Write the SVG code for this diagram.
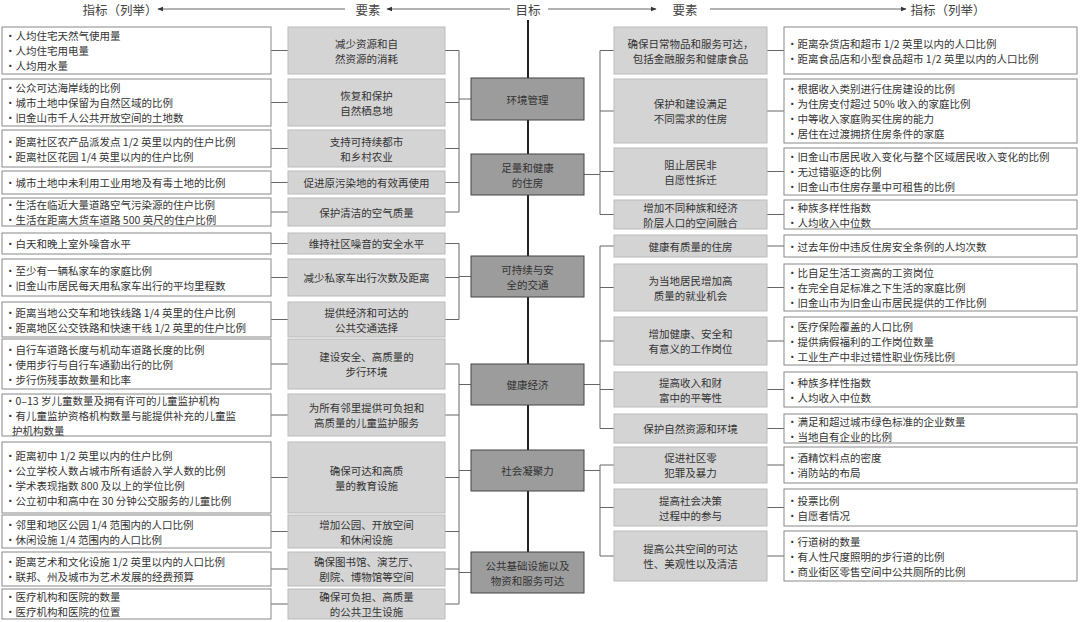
<svg xmlns="http://www.w3.org/2000/svg" width="1080" height="622" viewBox="0 0 1080 622">
<defs>
<style>
text{font-family:"Noto Sans CJK SC","Liberation Sans",sans-serif;font-size:10.5px;fill:#333;dominant-baseline:central}
.c{text-anchor:middle}
.h{font-size:12.5px;fill:#444}
.ind{fill:#fff;stroke:#888;stroke-width:1}
.el{fill:#d4d4d4;stroke:#bbb;stroke-width:1}
.go{fill:#9c9c9c;stroke:#444;stroke-width:1}
.ln{stroke:#666;stroke-width:1;fill:none}
.sp{stroke:#222;stroke-width:2;fill:none}
</style>
<marker id="a" viewBox="0 0 10 10" refX="9" refY="5" markerWidth="6" markerHeight="6" orient="auto-start-reverse"><path d="M0,1 L10,5 L0,9 z" fill="#333"/></marker>
</defs>
<rect width="1080" height="622" fill="#fff"/>
<g id="header">
<text class="h c" x="120" y="9">指标（列举）</text>
<text class="h c" x="368" y="9">要素</text>
<text class="h c" x="528" y="9">目标</text>
<text class="h c" x="685" y="9">要素</text>
<text class="h c" x="948" y="9">指标（列举）</text>
</g>
<g id="connectors">
<line class="ln" x1="345" y1="9" x2="158" y2="9" marker-end="url(#a)"/>
<line class="ln" x1="510" y1="9" x2="387" y2="9" marker-end="url(#a)"/>
<line class="ln" x1="548" y1="9" x2="656" y2="9" marker-end="url(#a)"/>
<line class="ln" x1="710" y1="9" x2="906" y2="9" marker-end="url(#a)"/>
<line class="sp" x1="528" y1="20" x2="528" y2="552"/>
<path class="ln" d="M271,50.5H288 M271,102.5H288 M271,148.5H288 M271,182.5H288 M271,212H288 M271,243.5H288 M271,277.5H288 M271,319.5H288 M271,364H288 M271,415H288 M271,477.5H288 M271,531.5H288 M271,569H288 M271,604H288"/>
<path class="ln" d="M445,50.5H459 M445,102.5H459 M445,148.5H459 M445,182.5H459 M445,212H459 M459,50.5V212 M459,99H471"/>
<path class="ln" d="M445,243.5H459 M445,277.5H459 M445,319.5H459 M459,243.5V319.5 M459,276.5H471"/>
<path class="ln" d="M445,364H459 M445,415H459 M445,477.5H459 M445,531.5H459 M445,569H459 M445,604H459 M459,364V604 M459,384.5H471 M459,470.5H471 M459,572.5H471"/>
<path class="ln" d="M767,50.5H784 M767,111H784 M767,171.5H784 M767,214.5H784 M767,246H784 M767,287.5H784 M767,341H784 M767,389.5H784 M767,428.5H784 M767,465H784 M767,507.5H784 M767,556H784"/>
<path class="ln" d="M614,50.5H600 M614,111H600 M614,171.5H600 M614,214.5H600 M600,50.5V214.5 M584,174.5H600"/>
<path class="ln" d="M614,246H600 M614,287.5H600 M614,341H600 M614,389.5H600 M614,428.5H600 M600,246V428.5 M584,384.5H600"/>
<path class="ln" d="M614,465H600 M614,507.5H600 M614,556H600 M600,465V556 M584,470.5H600"/>
</g>
<g id="goals">
<g id="g1"><rect class="go" x="471" y="78" width="113" height="42"/><text class="c" x="527.5" y="99">环境管理</text></g>
<g id="g2"><rect class="go" x="471" y="154" width="113" height="41"/><text class="c" x="527.5" y="167">足量和健康</text><text class="c" x="527.5" y="182">的住房</text></g>
<g id="g3"><rect class="go" x="471" y="256" width="113" height="41"/><text class="c" x="527.5" y="269">可持续与安</text><text class="c" x="527.5" y="284">全的交通</text></g>
<g id="g4"><rect class="go" x="471" y="364" width="113" height="41"/><text class="c" x="527.5" y="384.5">健康经济</text></g>
<g id="g5"><rect class="go" x="471" y="450" width="113" height="41"/><text class="c" x="527.5" y="470.5">社会凝聚力</text></g>
<g id="g6"><rect class="go" x="471" y="552" width="113" height="41"/><text class="c" x="527.5" y="565">公共基础设施以及</text><text class="c" x="527.5" y="580">物资和服务可达</text></g>
</g>
<g id="left-elements">
<g id="le1"><rect class="el" x="288" y="27" width="157" height="47"/><text class="c" x="366.5" y="43">减少资源和自</text><text class="c" x="366.5" y="58">然资源的消耗</text></g>
<g id="le2"><rect class="el" x="288" y="79" width="157" height="47"/><text class="c" x="366.5" y="95">恢复和保护</text><text class="c" x="366.5" y="110">自然栖息地</text></g>
<g id="le3"><rect class="el" x="288" y="130" width="157" height="37"/><text class="c" x="366.5" y="141">支持可持续都市</text><text class="c" x="366.5" y="156">和乡村农业</text></g>
<g id="le4"><rect class="el" x="288" y="171" width="157" height="23"/><text class="c" x="366.5" y="182.5">促进原污染地的有效再使用</text></g>
<g id="le5"><rect class="el" x="288" y="198" width="157" height="28"/><text class="c" x="366.5" y="212">保护清洁的空气质量</text></g>
<g id="le6"><rect class="el" x="288" y="233" width="157" height="21"/><text class="c" x="366.5" y="243.5">维持社区噪音的安全水平</text></g>
<g id="le7"><rect class="el" x="288" y="259" width="157" height="37"/><text class="c" x="366.5" y="277.5">减少私家车出行次数及距离</text></g>
<g id="le8"><rect class="el" x="288" y="302" width="157" height="35"/><text class="c" x="366.5" y="312">提供经济和可达的</text><text class="c" x="366.5" y="327">公共交通选择</text></g>
<g id="le9"><rect class="el" x="288" y="339" width="157" height="50"/><text class="c" x="366.5" y="356.5">建设安全、高质量的</text><text class="c" x="366.5" y="371.5">步行环境</text></g>
<g id="le10"><rect class="el" x="288" y="394" width="157" height="42"/><text class="c" x="366.5" y="407.5">为所有邻里提供可负担和</text><text class="c" x="366.5" y="422.5">高质量的儿童监护服务</text></g>
<g id="le11"><rect class="el" x="288" y="442" width="157" height="71"/><text class="c" x="366.5" y="470">确保可达和高质</text><text class="c" x="366.5" y="485">量的教育设施</text></g>
<g id="le12"><rect class="el" x="288" y="515" width="157" height="33"/><text class="c" x="366.5" y="524">增加公园、开放空间</text><text class="c" x="366.5" y="539">和休闲设施</text></g>
<g id="le13"><rect class="el" x="288" y="552" width="157" height="34"/><text class="c" x="366.5" y="561.5">确保图书馆、演艺厅、</text><text class="c" x="366.5" y="576.5">剧院、博物馆等空间</text></g>
<g id="le14"><rect class="el" x="288" y="589" width="157" height="30"/><text class="c" x="366.5" y="596.5">确保可负担、高质量</text><text class="c" x="366.5" y="611.5">的公共卫生设施</text></g>
</g>
<g id="left-indicators">
<g id="li1"><rect class="ind" x="2" y="27" width="269" height="47"/><text x="5" y="35.5">•人均住宅天然气使用量</text><text x="5" y="50.5">•人均住宅用电量</text><text x="5" y="65.5">•人均用水量</text></g>
<g id="li2"><rect class="ind" x="2" y="79" width="269" height="47"/><text x="5" y="87.5">•公众可达海岸线的比例</text><text x="5" y="102.5">•城市土地中保留为自然区域的比例</text><text x="5" y="117.5">•旧金山市千人公共开放空间的土地数</text></g>
<g id="li3"><rect class="ind" x="2" y="130" width="269" height="37"/><text x="5" y="141">•距离社区农产品派发点 1/2 英里以内的住户比例</text><text x="5" y="156">•距离社区花园 1/4 英里以内的住户比例</text></g>
<g id="li4"><rect class="ind" x="2" y="171" width="269" height="23"/><text x="5" y="182.5">•城市土地中未利用工业用地及有毒土地的比例</text></g>
<g id="li5"><rect class="ind" x="2" y="198" width="269" height="28"/><text x="5" y="204.5">•生活在临近大量道路空气污染源的住户比例</text><text x="5" y="219.5">•生活在距离大货车道路 500 英尺的住户比例</text></g>
<g id="li6"><rect class="ind" x="2" y="233" width="269" height="21"/><text x="5" y="243.5">•白天和晚上室外噪音水平</text></g>
<g id="li7"><rect class="ind" x="2" y="259" width="269" height="37"/><text x="5" y="270">•至少有一辆私家车的家庭比例</text><text x="5" y="285">•旧金山市居民每天用私家车出行的平均里程数</text></g>
<g id="li8"><rect class="ind" x="2" y="302" width="269" height="35"/><text x="5" y="312">•距离当地公交车和地铁线路 1/4 英里的住户比例</text><text x="5" y="327">•距离地区公交铁路和快速干线 1/2 英里的住户比例</text></g>
<g id="li9"><rect class="ind" x="2" y="339" width="269" height="50"/><text x="5" y="349">•自行车道路长度与机动车道路长度的比例</text><text x="5" y="364">•使用步行与自行车通勤出行的比例</text><text x="5" y="379">•步行伤残事故数量和比率</text></g>
<g id="li10"><rect class="ind" x="2" y="394" width="269" height="42"/><text x="5" y="400">•0–13 岁儿童数量及拥有许可的儿童监护机构</text><text x="5" y="415">•有儿童监护资格机构数量与能提供补充的儿童监</text><text x="12" y="430">护机构数量</text></g>
<g id="li11"><rect class="ind" x="2" y="442" width="269" height="71"/><text x="5" y="455">•距离初中 1/2 英里以内的住户比例</text><text x="5" y="470">•公立学校人数占城市所有适龄入学人数的比例</text><text x="5" y="485">•学术表现指数 800 及以上的学位比例</text><text x="5" y="500">•公立初中和高中在 30 分钟公交服务的儿童比例</text></g>
<g id="li12"><rect class="ind" x="2" y="515" width="269" height="33"/><text x="5" y="524">•邻里和地区公园 1/4 范围内的人口比例</text><text x="5" y="539">•休闲设施 1/4 范围内的人口比例</text></g>
<g id="li13"><rect class="ind" x="2" y="552" width="269" height="34"/><text x="5" y="561.5">•距离艺术和文化设施 1/2 英里以内的人口比例</text><text x="5" y="576.5">•联邦、州及城市为艺术发展的经费预算</text></g>
<g id="li14"><rect class="ind" x="2" y="589" width="269" height="30"/><text x="5" y="596.5">•医疗机构和医院的数量</text><text x="5" y="611.5">•医疗机构和医院的位置</text></g>
</g>
<g id="right-elements">
<g id="re1"><rect class="el" x="614" y="27" width="153" height="47"/><text class="c" x="690.5" y="43">确保日常物品和服务可达，</text><text class="c" x="690.5" y="58">包括金融服务和健康食品</text></g>
<g id="re2"><rect class="el" x="614" y="79" width="153" height="64"/><text class="c" x="690.5" y="103.5">保护和建设满足</text><text class="c" x="690.5" y="118.5">不同需求的住房</text></g>
<g id="re3"><rect class="el" x="614" y="148" width="153" height="47"/><text class="c" x="690.5" y="164">阻止居民非</text><text class="c" x="690.5" y="179">自愿性拆迁</text></g>
<g id="re4"><rect class="el" x="614" y="200" width="153" height="29"/><text class="c" x="690.5" y="207">增加不同种族和经济</text><text class="c" x="690.5" y="222">阶层人口的空间融合</text></g>
<g id="re5"><rect class="el" x="614" y="235" width="153" height="22"/><text class="c" x="690.5" y="246">健康有质量的住房</text></g>
<g id="re6"><rect class="el" x="614" y="264" width="153" height="47"/><text class="c" x="690.5" y="280">为当地居民增加高</text><text class="c" x="690.5" y="295">质量的就业机会</text></g>
<g id="re7"><rect class="el" x="614" y="317" width="153" height="48"/><text class="c" x="690.5" y="333.5">增加健康、安全和</text><text class="c" x="690.5" y="348.5">有意义的工作岗位</text></g>
<g id="re8"><rect class="el" x="614" y="372" width="153" height="35"/><text class="c" x="690.5" y="382">提高收入和财</text><text class="c" x="690.5" y="397">富中的平等性</text></g>
<g id="re9"><rect class="el" x="614" y="414" width="153" height="29"/><text class="c" x="690.5" y="428.5">保护自然资源和环境</text></g>
<g id="re10"><rect class="el" x="614" y="447" width="153" height="36"/><text class="c" x="690.5" y="457.5">促进社区零</text><text class="c" x="690.5" y="472.5">犯罪及暴力</text></g>
<g id="re11"><rect class="el" x="614" y="489" width="153" height="37"/><text class="c" x="690.5" y="500">提高社会决策</text><text class="c" x="690.5" y="515">过程中的参与</text></g>
<g id="re12"><rect class="el" x="614" y="531" width="153" height="50"/><text class="c" x="690.5" y="548.5">提高公共空间的可达</text><text class="c" x="690.5" y="563.5">性、美观性以及清洁</text></g>
</g>
<g id="right-indicators">
<g id="ri1"><rect class="ind" x="784" y="27" width="293" height="47"/><text x="787" y="43">•距离杂货店和超市 1/2 英里以内的人口比例</text><text x="787" y="58">•距离食品店和小型食品超市 1/2 英里以内的人口比例</text></g>
<g id="ri2"><rect class="ind" x="784" y="79" width="293" height="64"/><text x="787" y="88.5">•根据收入类别进行住房建设的比例</text><text x="787" y="103.5">•为住房支付超过 50% 收入的家庭比例</text><text x="787" y="118.5">•中等收入家庭购买住房的能力</text><text x="787" y="133.5">•居住在过渡拥挤住房条件的家庭</text></g>
<g id="ri3"><rect class="ind" x="784" y="148" width="293" height="47"/><text x="787" y="156.5">•旧金山市居民收入变化与整个区域居民收入变化的比例</text><text x="787" y="171.5">•无过错驱逐的比例</text><text x="787" y="186.5">•旧金山市住房存量中可租售的比例</text></g>
<g id="ri4"><rect class="ind" x="784" y="200" width="293" height="29"/><text x="787" y="207">•种族多样性指数</text><text x="787" y="222">•人均收入中位数</text></g>
<g id="ri5"><rect class="ind" x="784" y="235" width="293" height="22"/><text x="787" y="246">•过去年份中违反住房安全条例的人均次数</text></g>
<g id="ri6"><rect class="ind" x="784" y="264" width="293" height="47"/><text x="787" y="272.5">•比自足生活工资高的工资岗位</text><text x="787" y="287.5">•在完全自足标准之下生活的家庭比例</text><text x="787" y="302.5">•旧金山市为旧金山市居民提供的工作比例</text></g>
<g id="ri7"><rect class="ind" x="784" y="317" width="293" height="48"/><text x="787" y="326">•医疗保险覆盖的人口比例</text><text x="787" y="341">•提供病假福利的工作岗位数量</text><text x="787" y="356">•工业生产中非过错性职业伤残比例</text></g>
<g id="ri8"><rect class="ind" x="784" y="372" width="293" height="35"/><text x="787" y="382">•种族多样性指数</text><text x="787" y="397">•人均收入中位数</text></g>
<g id="ri9"><rect class="ind" x="784" y="414" width="293" height="29"/><text x="787" y="421">•满足和超过城市绿色标准的企业数量</text><text x="787" y="436">•当地自有企业的比例</text></g>
<g id="ri10"><rect class="ind" x="784" y="447" width="293" height="36"/><text x="787" y="457.5">•酒精饮料点的密度</text><text x="787" y="472.5">•消防站的布局</text></g>
<g id="ri11"><rect class="ind" x="784" y="489" width="293" height="37"/><text x="787" y="500">•投票比例</text><text x="787" y="515">•自愿者情况</text></g>
<g id="ri12"><rect class="ind" x="784" y="531" width="293" height="50"/><text x="787" y="541">•行道树的数量</text><text x="787" y="556">•有人性尺度照明的步行道的比例</text><text x="787" y="571">•商业街区零售空间中公共厕所的比例</text></g>
</g>
</svg>
